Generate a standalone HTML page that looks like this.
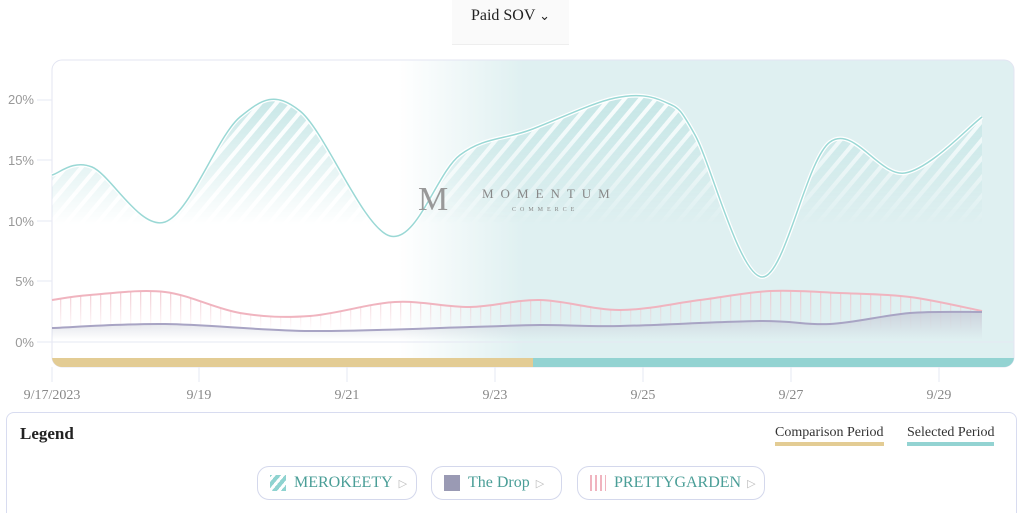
<!DOCTYPE html>
<html><head><meta charset="utf-8"><style>
html,body{margin:0;padding:0;background:#fff;width:1024px;height:513px;overflow:hidden;font-family:"Liberation Serif",serif;}
.abs{position:absolute}
.dd{left:452px;top:0;width:117px;height:44px;background:#fafafa;border-bottom:1px solid #eee;font-size:16px;color:#222;text-align:center;line-height:32px}
.leg{left:6px;top:412px;width:1009px;height:100px;border:1px solid #d8dcf0;border-bottom:none;border-radius:8px 8px 0 0;background:#fff}
.pill{position:absolute;top:53px;height:34px;border:1px solid #d4d8ec;border-radius:12px;font-size:16px;color:#4a9e97;line-height:32px;box-sizing:border-box;padding-left:36px}
.pill i{position:absolute;left:12px;top:8px;width:16px;height:16px}
.pill b{font-weight:normal;color:#bbb;font-size:11px;margin-left:6px}
</style></head><body>
<div class="abs dd">Paid SOV <span style="font-size:13px">&#8964;</span></div>
<svg class="abs" style="left:0;top:0" width="1024" height="412" id="s">
<defs>
<linearGradient id="bg" x1="0" x2="1" y1="0" y2="0">
<stop offset="0" stop-color="#fff"/><stop offset="0.36" stop-color="#fff"/><stop offset="0.49" stop-color="#dff0f1"/><stop offset="1" stop-color="#dff0f1"/></linearGradient>
<pattern id="hatch" width="12" height="12" patternUnits="userSpaceOnUse" patternTransform="rotate(40)">
<rect width="12" height="12" fill="#c6e6e6"/><rect x="0" width="4" height="12" fill="#fff" opacity="0.9"/></pattern>
<pattern id="vh" width="10" height="8" patternUnits="userSpaceOnUse"><rect x="0" width="1.3" height="8" fill="#f0c4cc"/></pattern>
<linearGradient id="fade" x1="0" x2="0" y1="0" y2="1"><stop offset="0" stop-color="#fff" stop-opacity="1"/><stop offset="1" stop-color="#fff" stop-opacity="0"/></linearGradient>
<mask id="m1" maskUnits="userSpaceOnUse"><rect x="0" y="95" width="1024" height="130" fill="url(#fade)"/></mask>
<mask id="m2" maskUnits="userSpaceOnUse"><rect x="0" y="285" width="1024" height="45" fill="url(#fade)"/></mask>
<linearGradient id="gf" x1="0" x2="0" y1="0" y2="1"><stop offset="0" stop-color="#c8ccd8"/><stop offset="1" stop-color="#c8ccd8" stop-opacity="0"/></linearGradient>
</defs>
<rect x="52" y="60" width="962" height="307" rx="10" fill="url(#bg)" stroke="#e3e5f2"/>
<g font-family="Liberation Sans,sans-serif" font-size="13" fill="#999" text-anchor="end">
<text x="34" y="104">20%</text><text x="34" y="165">15%</text><text x="34" y="226">10%</text><text x="34" y="286">5%</text><text x="34" y="347">0%</text></g>
<g stroke="#e6e8f3"><line x1="37" x2="52" y1="100" y2="100"/><line x1="37" x2="52" y1="160" y2="160"/><line x1="37" x2="52" y1="221" y2="221"/><line x1="37" x2="52" y1="281" y2="281"/><line x1="37" x2="1014" y1="342" y2="342"/>
<line x1="52" x2="52" y1="367" y2="382"/><line x1="199" x2="199" y1="367" y2="382"/><line x1="347" x2="347" y1="367" y2="382"/><line x1="495" x2="495" y1="367" y2="382"/><line x1="643" x2="643" y1="367" y2="382"/><line x1="791" x2="791" y1="367" y2="382"/><line x1="939" x2="939" y1="367" y2="382"/></g>
<path id="tf" fill="url(#hatch)" mask="url(#m1)"/>
<path id="pf" fill="url(#vh)" mask="url(#m2)"/>
<path id="gfp" fill="url(#gf)" opacity="0.8"/>
<path id="tl" fill="none" stroke="#fff" stroke-width="4"/>
<path id="tl2" fill="none" stroke="#9ad8d5" stroke-width="1.5"/>
<path id="pl" fill="none" stroke="#f0b4bf" stroke-width="2"/>
<path id="gl" fill="none" stroke="#a8a4c4" stroke-width="2"/>
<g font-family="Liberation Serif,serif" fill="#888">
<text x="418" y="210" font-size="34" fill="#999">M</text>
<text x="482" y="198" font-size="13" letter-spacing="7">MOMENTUM</text>
<text x="512" y="211" font-size="6" letter-spacing="4">COMMERCE</text></g>
<path d="M52 358H533V367H62A10 10 0 0 1 52 357Z" fill="#e3cc94"/>
<path d="M533 358H1014V357A10 10 0 0 1 1004 367H533Z" fill="#93d3d2"/>
<g font-family="Liberation Serif,serif" font-size="14" fill="#888" text-anchor="middle">
<text x="52" y="399">9/17/2023</text><text x="199" y="399">9/19</text><text x="347" y="399">9/21</text><text x="495" y="399">9/23</text><text x="643" y="399">9/25</text><text x="791" y="399">9/27</text><text x="939" y="399">9/29</text></g>
</svg>
<div class="abs leg">
<div style="position:absolute;left:13px;top:11px;font-size:17px;font-weight:bold;color:#222">Legend</div>
<div style="position:absolute;left:768px;top:12px;font-size:14px;color:#333;border-bottom:4px solid #e3cc94;padding-bottom:1px">Comparison Period</div>
<div style="position:absolute;left:900px;top:12px;font-size:14px;color:#333;border-bottom:4px solid #93d3d2;padding-bottom:1px">Selected Period</div>
<div class="pill" style="left:250px;width:160px"><i style="background:repeating-linear-gradient(-50deg,#8fd3d0 0 4px,#fff 4px 7px)"></i>MEROKEETY<b>&#9655;</b></div>
<div class="pill" style="left:424px;width:131px"><i style="background:#9a9ab4"></i>The Drop<b>&#9655;</b></div>
<div class="pill" style="left:570px;width:188px"><i style="background:repeating-linear-gradient(90deg,#f0b4bf 0 2px,#fff 2px 5px)"></i><span style="color:#4a9e97">PRETTYGARDEN</span><b>&#9655;</b></div>
</div>
<script>
function cr(p){let d="M"+p[0][0]+" "+p[0][1];for(let i=0;i<p.length-1;i++){const a=p[i-1]||p[i],b=p[i],c=p[i+1],e=p[i+2]||c;const t=6;d+=" C"+(b[0]+(c[0]-a[0])/t)+" "+(b[1]+(c[1]-a[1])/t)+" "+(c[0]-(e[0]-b[0])/t)+" "+(c[1]-(e[1]-b[1])/t)+" "+c[0]+" "+c[1];}return d;}
const T=[[52,175],[92,167],[165,222],[240,117],[300,111],[390,236],[460,155],[530,130],[615,98],[665,102],[695,135],[762,277],[830,142],[905,173],[982,117]];
const P=[[52,300],[90,295],[165,292],[240,313],[310,316],[395,302],[470,307],[540,300],[620,310],[700,300],[770,291],[840,293],[910,297],[982,311]];
const G=[[52,328],[165,324],[310,331],[470,327],[540,325],[620,326],[760,321],[830,324],[910,313],[982,312]];
const t=cr(T),p=cr(P),g=cr(G);
const S=id=>document.getElementById(id);
S("tl").setAttribute("d",t);S("tl2").setAttribute("d",t);S("pl").setAttribute("d",p);S("gl").setAttribute("d",g);
S("tf").setAttribute("d",t+" L982 225 L52 225Z");
S("pf").setAttribute("d",p+" L982 335 L52 335Z");
S("gfp").setAttribute("d",g+" L982 340 L52 340Z");
</script>
</body></html>
